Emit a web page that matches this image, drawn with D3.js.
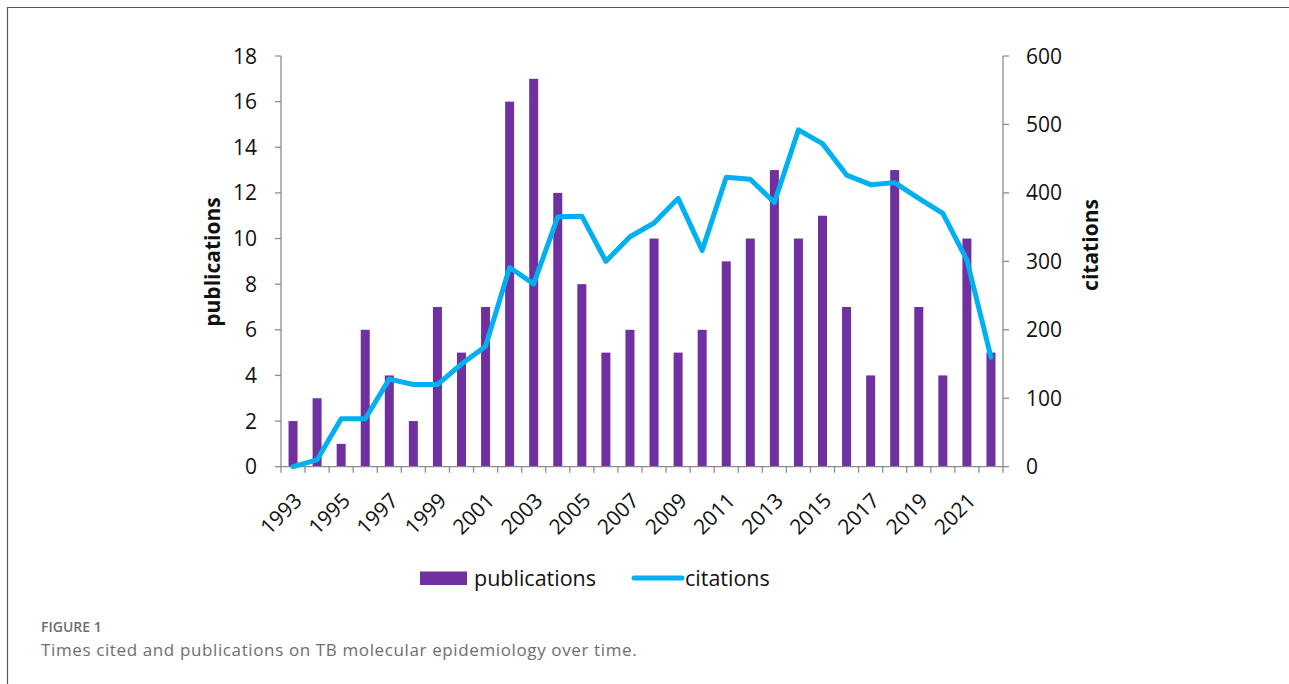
<!DOCTYPE html>
<html>
<head>
<meta charset="utf-8">
<script src="https://cdn.jsdelivr.net/npm/d3@7"></script>
<style>
  html, body { margin: 0; padding: 0; background: #fff; }
  svg { display: block; }
</style>
</head>
<body>
<svg id="chart" width="1289" height="684"></svg>
<script>
const years = [1993,1994,1995,1996,1997,1998,1999,2000,2001,2002,2003,2004,2005,2006,2007,2008,2009,2010,2011,2012,2013,2014,2015,2016,2017,2018,2019,2020,2021,2022];
const publications = [2,3,1,6,4,2,7,5,7,16,17,12,8,5,6,10,5,6,9,10,13,10,11,7,4,13,7,4,10,5];
const citations = [0,10,70,70,128,120,120,150,176,291,267,365,366,300,336,356,392,316,423,420,386,492,472,426,412,415,392,370,302,160];
const leftTicks = [0,2,4,6,8,10,12,14,16,18];
const rightTicks = [0,100,200,300,400,500,600];
const xLabelYears = years.filter((d,i) => i % 2 === 0);

const svg = d3.select("#chart");
const font = "'Open Sans', 'Noto Sans', sans-serif";
const axisColor = "#8c8c8c";

// frame
svg.append("line").attr("x1", 7).attr("x2", 1289).attr("y1", 7.5).attr("y2", 7.5).attr("stroke", "#555").attr("stroke-width", 1.2);
svg.append("line").attr("x1", 7.5).attr("x2", 7.5).attr("y1", 7).attr("y2", 684).attr("stroke", "#555").attr("stroke-width", 1.2);

const x0 = 281, x1 = 1003, yTop = 56, yBot = 466.7;
const x = d3.scaleBand().domain(years).range([x0, x1]).paddingInner(0).paddingOuter(0);
const yL = d3.scaleLinear().domain([0, 18]).range([yBot, yTop]);
const yR = d3.scaleLinear().domain([0, 600]).range([yBot, yTop]);

const g = svg.append("g");

// bars
const bw = 9;
g.selectAll("rect.bar").data(years).enter().append("rect")
  .attr("class", "bar")
  .attr("x", (d) => x(d) + x.bandwidth()/2 - bw/2)
  .attr("width", bw)
  .attr("y", (d,i) => yL(publications[i]))
  .attr("height", (d,i) => yL(0) - yL(publications[i]))
  .attr("fill", "#7030a0");

// axes lines
g.append("line").attr("x1", x0).attr("x2", x1).attr("y1", yBot).attr("y2", yBot).attr("stroke", axisColor).attr("stroke-width", 1.3);
g.append("line").attr("x1", x0).attr("x2", x0).attr("y1", yTop).attr("y2", yBot).attr("stroke", axisColor).attr("stroke-width", 1.3);
g.append("line").attr("x1", x1).attr("x2", x1).attr("y1", yTop).attr("y2", yBot).attr("stroke", axisColor).attr("stroke-width", 1.3);

// x ticks at band boundaries
const bounds = years.map(d => x(d)).concat([x1]);
g.selectAll("line.xt").data(bounds).enter().append("line")
  .attr("x1", d => d).attr("x2", d => d).attr("y1", yBot).attr("y2", yBot + 6)
  .attr("stroke", axisColor).attr("stroke-width", 1.3);

// left ticks
g.selectAll("line.lt").data(leftTicks).enter().append("line")
  .attr("x1", x0 - 6).attr("x2", x0).attr("y1", d => yL(d)).attr("y2", d => yL(d))
  .attr("stroke", axisColor).attr("stroke-width", 1.3);
g.selectAll("text.ll").data(leftTicks).enter().append("text")
  .attr("x", 257).attr("y", d => yL(d)).attr("dy", "0.36em")
  .attr("text-anchor", "end").attr("font-family", font).attr("font-size", 21).attr("fill", "#111")
  .text(d => d);

// right ticks
g.selectAll("line.rt").data(rightTicks).enter().append("line")
  .attr("x1", x1).attr("x2", x1 + 6).attr("y1", d => yR(d)).attr("y2", d => yR(d))
  .attr("stroke", axisColor).attr("stroke-width", 1.3);
g.selectAll("text.rl").data(rightTicks).enter().append("text")
  .attr("x", 1026).attr("y", d => yR(d)).attr("dy", "0.36em")
  .attr("text-anchor", "start").attr("font-family", font).attr("font-size", 21).attr("fill", "#111")
  .text(d => d);

// x labels
g.selectAll("text.xl").data(xLabelYears).enter().append("text")
  .attr("transform", d => `translate(${x(d) + x.bandwidth()/2 + 5},${yBot + 30}) rotate(-45)`)
  .attr("dy", "0.35em")
  .attr("text-anchor", "end").attr("font-family", font).attr("font-size", 21).attr("fill", "#111")
  .text(d => d);

// line
const line = d3.line().x((d,i) => x(years[i]) + x.bandwidth()/2).y(d => yR(d));
g.append("path").datum(citations).attr("d", line)
  .attr("fill", "none").attr("stroke", "#00b0f0").attr("stroke-width", 5)
  .attr("stroke-linejoin", "round").attr("stroke-linecap", "round");

// axis titles
svg.append("text").attr("transform", "translate(220,262) rotate(-90)")
  .attr("text-anchor", "middle").attr("font-family", font).attr("font-weight", "bold").attr("font-size", 21).attr("fill", "#111")
  .text("publications");
svg.append("text").attr("transform", "translate(1098,245) rotate(-90)")
  .attr("text-anchor", "middle").attr("font-family", font).attr("font-weight", "bold").attr("font-size", 21).attr("fill", "#111")
  .text("citations");

// legend
svg.append("rect").attr("x", 420).attr("y", 571.5).attr("width", 47).attr("height", 13.5).attr("fill", "#7030a0");
svg.append("text").attr("x", 474).attr("y", 578).attr("dy", "0.35em").attr("font-family", font).attr("font-size", 21.5).attr("fill", "#111").text("publications");
svg.append("line").attr("x1", 634).attr("x2", 682).attr("y1", 578).attr("y2", 578).attr("stroke", "#00b0f0").attr("stroke-width", 5).attr("stroke-linecap", "round");
svg.append("text").attr("x", 685).attr("y", 578).attr("dy", "0.35em").attr("font-family", font).attr("font-size", 21.5).attr("fill", "#111").text("citations");

// caption
svg.append("text").attr("x", 41).attr("y", 632).attr("font-family", font).attr("font-weight", 600).attr("font-size", 14).attr("fill", "#6e6e6e").text("FIGURE 1");
svg.append("text").attr("x", 41).attr("y", 656).attr("font-family", font).attr("font-size", 17).attr("letter-spacing", 0.62).attr("fill", "#6e6e6e").text("Times cited and publications on TB molecular epidemiology over time.");
</script>
</body>
</html>
